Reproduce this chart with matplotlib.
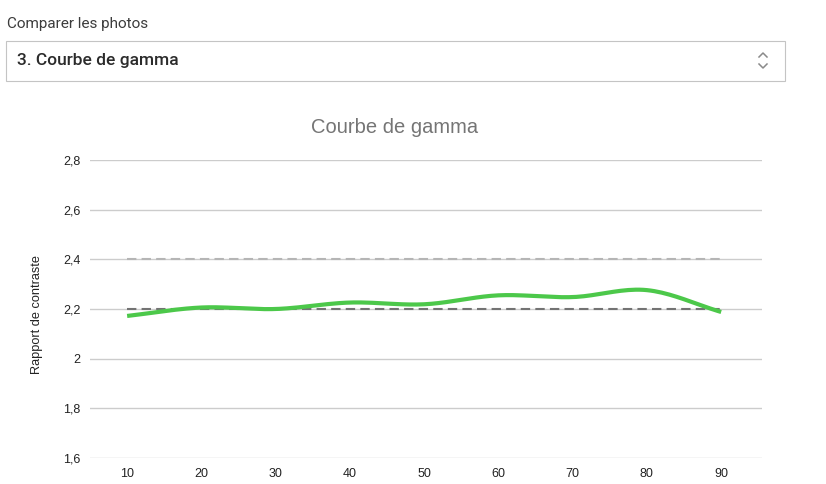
import numpy as np
import matplotlib
matplotlib.use('Agg')
import matplotlib.pyplot as plt
from matplotlib.patches import Rectangle
from matplotlib.lines import Line2D

# data
x_values = [10, 20, 30, 40, 50, 60, 70, 80, 90]
gamma = [2.172, 2.206, 2.200, 2.226, 2.219, 2.255, 2.248, 2.276, 2.188]
ref_high = [2.4] * len(x_values)
ref_target = [2.2] * len(x_values)
y_ticks = [1.6, 1.8, 2.0, 2.2, 2.4, 2.6, 2.8]
y_tick_labels = ['1,6', '1,8', '2', '2,2', '2,4', '2,6', '2,8']


def smooth(xs, ys, n=20):
    # catmull-rom style curve through the points, like the curved line in the chart
    xs = np.asarray(xs, float)
    ys = np.asarray(ys, float)
    px = np.concatenate([[2 * xs[0] - xs[1]], xs, [2 * xs[-1] - xs[-2]]])
    py = np.concatenate([[2 * ys[0] - ys[1]], ys, [2 * ys[-1] - ys[-2]]])
    out_x, out_y = [], []
    t = np.linspace(0, 1, n, endpoint=False)
    for i in range(1, len(px) - 2):
        for p, out in ((px, out_x), (py, out_y)):
            p0, p1, p2, p3 = p[i - 1], p[i], p[i + 1], p[i + 2]
            out.extend(0.5 * ((2 * p1) + (-p0 + p2) * t
                              + (2 * p0 - 5 * p1 + 4 * p2 - p3) * t ** 2
                              + (-p0 + 3 * p1 - 3 * p2 + p3) * t ** 3))
    out_x.append(xs[-1])
    out_y.append(ys[-1])
    return np.array(out_x), np.array(out_y)


W, H = 826, 484
fig = plt.figure(figsize=(W / 100, H / 100), dpi=100)

# dropdown header
fig.text(7 / W, 1 - 24 / H, 'Comparer les photos', fontsize=11, family='Roboto',
         color='#3c3c3c', va='center', ha='left')
fig.patches.append(Rectangle((5.5 / W, 1 - 80.5 / H), 779 / W, 39 / H,
                             transform=fig.transFigure, facecolor='white',
                             edgecolor='#c4c4c4', linewidth=0.8))
fig.text(17 / W, 1 - 61 / H, '3. Courbe de gamma', fontsize=12.5, family='Roboto',
         weight='medium', color='#2b2b2b', va='center', ha='left')
# up/down chevron
for pts in (([759, 763, 767], [57, 53, 57]), ([759, 763, 767], [64, 68, 64])):
    fig.lines.append(Line2D([p / W for p in pts[0]], [1 - p / H for p in pts[1]],
                            transform=fig.transFigure, color='#8a8a8a', linewidth=1.1))

# chart
ax = fig.add_axes([90 / W, 1 - 458 / H, 672 / W, 298 / H])
ax.set_xlim(5, 95.5)
ax.set_ylim(1.6, 2.8)

for spine in ax.spines.values():
    spine.set_visible(False)
ax.set_yticks(y_ticks)
ax.set_yticklabels(y_tick_labels)
ax.set_xticks(x_values)
ax.tick_params(length=0, labelsize=9, colors='#222222', pad=7)
for lbl in ax.get_xticklabels() + ax.get_yticklabels():
    lbl.set_family('Liberation Sans')
ax.grid(axis='y', color='#cccccc', linewidth=1)
ax.set_axisbelow(True)

ax.plot(x_values, ref_high, color='#b5b5b5', linewidth=1.5, dashes=(4.5, 2.5))
ax.plot(x_values, ref_target, color='#737373', linewidth=1.5, dashes=(4.5, 2.5))
sx, sy = smooth(x_values, gamma)
ax.plot(sx, sy, color='#4cc84a', linewidth=3, solid_capstyle='butt')

ax.set_ylabel('Rapport de contraste', fontsize=9.2, family='Liberation Sans',
              color='#222222')
ax.yaxis.set_label_coords(-0.07, 0.48)
fig.text(395 / W, 1 - 127 / H, 'Courbe de gamma', fontsize=14.5, family='Liberation Sans',
         color='#757575', ha='center', va='center')

fig.savefig('out.png', dpi=100)
